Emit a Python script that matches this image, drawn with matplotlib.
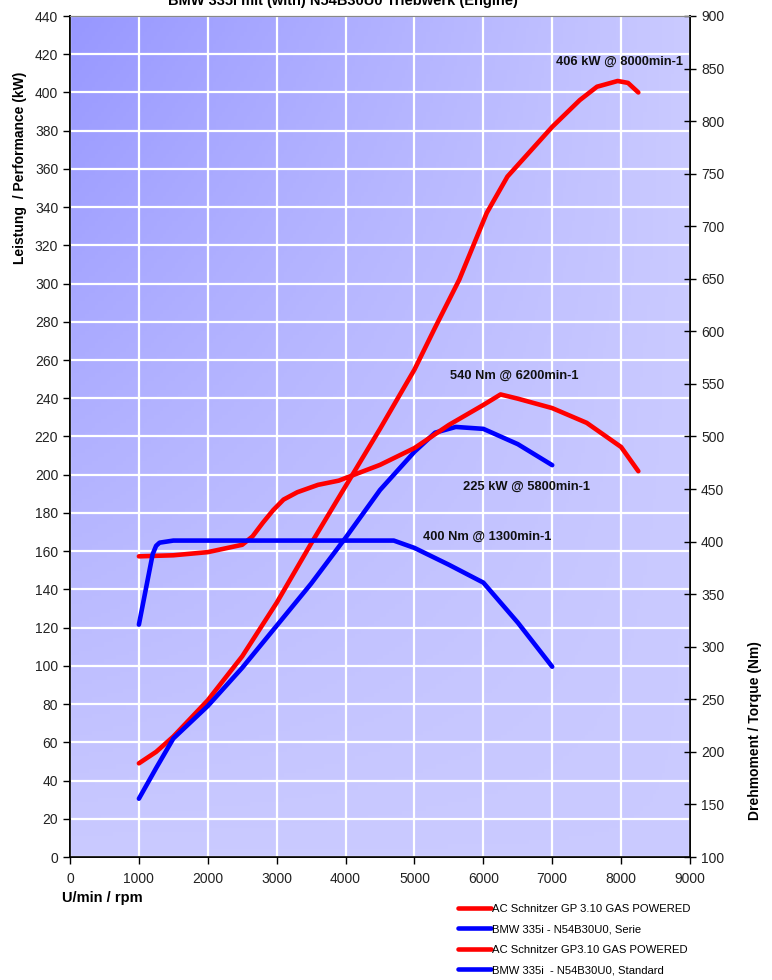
import numpy as np
import matplotlib.pyplot as plt
from matplotlib.colors import LinearSegmentedColormap

plt.rcParams['font.family'] = ['Liberation Sans', 'DejaVu Sans']

# power curves (kW, left axis)
rpm_gp_kw = [1000, 1250, 1500, 2000, 2500, 3000, 3500, 4000, 4500, 5000, 5300, 5650,
             6050, 6350, 6600, 7000, 7400, 7650, 7950, 8100, 8250]
gp_kw = [49, 55, 63, 82, 105, 133, 164, 194, 224, 255, 277, 302,
         337, 356, 366, 382, 396, 403, 406, 405, 400]

rpm_std_kw = [1000, 1250, 1500, 2000, 2500, 3000, 3500, 4000, 4500, 5000, 5300, 5600,
              6000, 6500, 7000]
std_kw = [30.5, 46.5, 62, 79, 99, 121, 143, 167, 192, 212, 222, 225, 224, 216, 205]

# torque curves (Nm, right axis)
rpm_gp_nm = [1000, 1500, 2000, 2500, 2650, 2800, 2950, 3100, 3300, 3600, 3900, 4500, 5000,
             5500, 6000, 6250, 6500, 7000, 7500, 8000, 8250]
gp_nm = [386, 387, 390, 397, 405, 418, 430, 440, 447, 454, 458, 473, 489,
         511, 530, 540, 536, 527, 513, 490, 467]

rpm_std_nm = [1000, 1200, 1250, 1300, 1500, 2000, 3000, 4000, 4700, 5000, 5500, 6000, 6500, 7000]
std_nm = [321, 388, 396, 399, 401, 401, 401, 401, 401, 394, 378, 361, 323, 281]

labels = ["AC Schnitzer GP 3.10 GAS POWERED", "BMW 335i - N54B30U0, Serie",
          "AC Schnitzer GP3.10 GAS POWERED", "BMW 335i  - N54B30U0, Standard"]

W, H = 772, 980
fig = plt.figure(figsize=(W / 100, H / 100), dpi=100)
ax = fig.add_axes([70 / W, (H - 857) / H, 620 / W, 841 / H])
ax2 = ax.twinx()

# background gradient: dark top-left, light toward right / bottom
u = np.linspace(0, 1, 200)
v = np.linspace(0, 1, 200)
U, V = np.meshgrid(u, v)
dark = (1 - U) * V
cmap = LinearSegmentedColormap.from_list("bg", ["#cacaff", "#9797ff"])
ax.imshow(dark, cmap=cmap, extent=[0, 9000, 0, 440], origin="lower",
          aspect="auto", zorder=0, vmin=0, vmax=1)

ax.set_xlim(0, 9000)
ax.set_ylim(0, 440)
ax2.set_ylim(100, 900)
ax.set_xticks(np.arange(0, 9001, 1000))
ax.set_yticks(np.arange(0, 441, 20))
ax2.set_yticks(np.arange(100, 901, 50))
ax.grid(True, color="white", lw=1.6, zorder=1)
ax.set_axisbelow(False)

lw = 3.3
ax.plot(rpm_gp_kw, gp_kw, color="#ff0000", lw=lw, solid_capstyle="round",
        solid_joinstyle="round", zorder=3, label=labels[0])
ax.plot(rpm_std_kw, std_kw, color="#0000ff", lw=lw, solid_capstyle="round",
        solid_joinstyle="round", zorder=3, label=labels[1])
ax2.plot(rpm_gp_nm, gp_nm, color="#ff0000", lw=lw, solid_capstyle="round",
         solid_joinstyle="round", zorder=3, label=labels[2])
ax2.plot(rpm_std_nm, std_nm, color="#0000ff", lw=lw, solid_capstyle="round",
         solid_joinstyle="round", zorder=3, label=labels[3])

# annotations
bold = dict(fontsize=9.3, fontweight="bold", color="#111111", zorder=4)
ax.text(7054, 416, "406 kW @ 8000min-1", va="center", ha="left", **bold)
ax.text(5515, 251.7, "540 Nm @ 6200min-1", va="center", ha="left", **bold)
ax.text(5704, 193.6, "225 kW @ 5800min-1", va="center", ha="left", **bold)
ax.text(5124, 167.5, "400 Nm @ 1300min-1", va="center", ha="left", **bold)

for a in (ax, ax2):
    a.spines["top"].set_color("#888888")
    a.spines["top"].set_linewidth(0.8)
    for s in ("left", "right", "bottom"):
        a.spines[s].set_linewidth(1.2)
ax.tick_params(axis="both", labelsize=10, length=5, width=1, colors="black",
               labelcolor="#222222")
ax2.tick_params(axis="y", labelsize=10, length=9, width=1, direction="inout",
                labelcolor="#222222")
ax.tick_params(axis="x", pad=6)

fig.text(20 / W, 1 - 168 / H, "Leistung  / Performance (kW)", rotation=90,
         ha="center", va="center", fontsize=10, fontweight="bold")
fig.text(755 / W, 1 - 731 / H, "Drehmoment / Torque (Nm)", rotation=90,
         ha="center", va="center", fontsize=10, fontweight="bold")
fig.text(62 / W, 1 - 898 / H, "U/min / rpm", ha="left", va="center",
         fontsize=10.5, fontweight="bold")
fig.text(343 / W, 1 - 5 / H, "BMW 335i mit (with) N54B30U0 Triebwerk (Engine)",
         ha="center", va="baseline", fontsize=10.5, fontweight="bold")

h1, l1 = ax.get_legend_handles_labels()
h2, l2 = ax2.get_legend_handles_labels()
fig.legend(h1 + h2, l1 + l2, loc="upper left", bbox_to_anchor=(452 / W, 1 - 898 / H),
           frameon=False, handlelength=3.0, handletextpad=0.1,
           labelspacing=0.93, borderpad=0,
           prop={"family": ["Liberation Sans"], "size": 8.1})

fig.savefig("out.png", dpi=100)
